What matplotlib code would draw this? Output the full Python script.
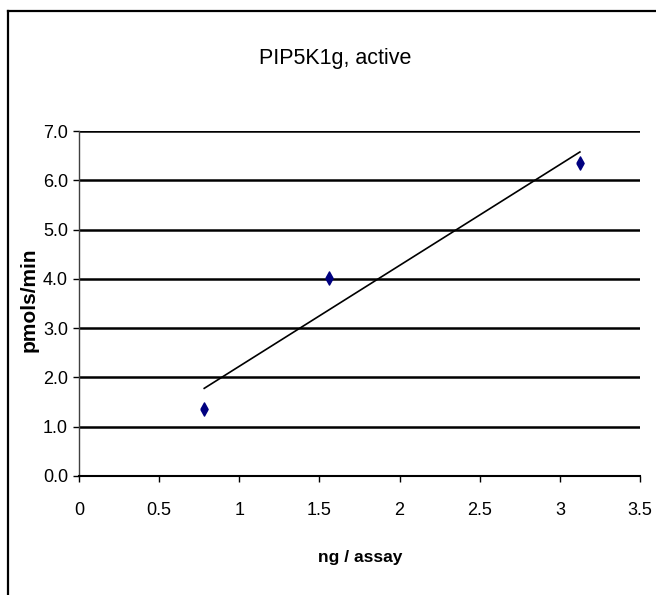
import numpy as np
import matplotlib
matplotlib.use("Agg")
import matplotlib.pyplot as plt
from matplotlib.lines import Line2D

# data
ng_per_assay = [0.78125, 1.5625, 3.125]
pmols_min    = [1.35, 4.02, 6.36]
x_ticks      = [0, 0.5, 1, 1.5, 2, 2.5, 3, 3.5]
x_ticklabels = ["0", "0.5", "1", "1.5", "2", "2.5", "3", "3.5"]
y_ticks      = [0, 1, 2, 3, 4, 5, 6, 7]
y_ticklabels = ["0.0", "1.0", "2.0", "3.0", "4.0", "5.0", "6.0", "7.0"]

narrow = ["Liberation Sans Narrow", "Liberation Sans", "DejaVu Sans"]

W, H = 656, 595
fig = plt.figure(figsize=(W / 100, H / 100), dpi=100)
ax = fig.add_axes([79 / W, 1 - 476 / H, (640 - 79) / W, (476 - 131) / H])

# linear trend line (least squares, like Excel)
slope, icpt = np.polyfit(ng_per_assay, pmols_min, 1)
xfit = np.array([min(ng_per_assay), max(ng_per_assay)])
ax.plot(xfit, slope * xfit + icpt, color="black", lw=1.2, zorder=3)

# narrow diamonds
diamond = [(-0.55, 0), (0, 1), (0.55, 0), (0, -1), (-0.55, 0)]
ax.plot(ng_per_assay, pmols_min, linestyle="none", marker=diamond,
        markersize=9.5, color="#000080", zorder=4)

ax.set_xlim(0, 3.5)
ax.set_ylim(0, 7)
ax.set_xticks(x_ticks)
ax.set_xticklabels(x_ticklabels, family=narrow, fontsize=13)
ax.set_yticks(y_ticks)
ax.set_yticklabels(y_ticklabels, family=narrow, fontsize=13)

for y in y_ticks[1:]:
    ax.axhline(y, color="black", lw=1.8, zorder=1)

ax.spines["top"].set_visible(False)
ax.spines["right"].set_visible(False)
ax.spines["left"].set_color("#404040")
ax.spines["left"].set_linewidth(1.0)
ax.spines["bottom"].set_color("black")
ax.spines["bottom"].set_linewidth(1.5)
ax.tick_params(axis="x", direction="out", length=4, width=1, pad=15)
ax.tick_params(axis="y", direction="out", length=4, width=1, pad=4)

# titles
fig.text(335 / W, 1 - 64 / H, "PIP5K1g, active", family=narrow, fontsize=15.5,
         ha="center", va="baseline")
fig.text(360 / W, 1 - 562 / H, "ng / assay", family=narrow, fontsize=12.5,
         fontweight="bold", ha="center", va="baseline")
fig.text(29 / W, 1 - 300 / H, "pmols/min", family=["Liberation Sans", "DejaVu Sans"],
         fontsize=15, fontweight="bold", rotation=90, ha="center", va="center")

# chart frame (cropped on right and bottom)
fig.add_artist(Line2D([8 / W, 1.0], [1 - 11 / H, 1 - 11 / H], color="black", lw=1.6))
fig.add_artist(Line2D([8 / W, 8 / W], [0.0, 1 - 11 / H], color="black", lw=1.6))

fig.savefig("out.png", dpi=100)
